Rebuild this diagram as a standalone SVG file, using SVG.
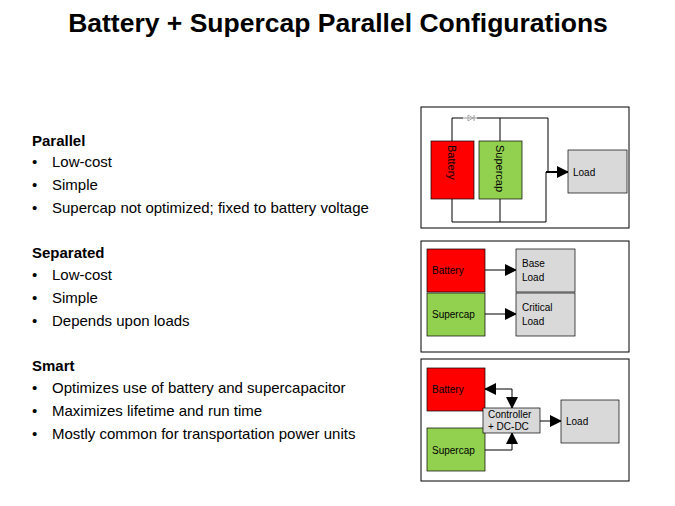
<svg xmlns="http://www.w3.org/2000/svg" width="675" height="506" viewBox="0 0 675 506">
<style>
text{font-family:"Liberation Sans",Arial,sans-serif}
.t{font-size:15px;fill:#000}
.h{font-size:15px;font-weight:bold}
.frame{fill:#fff;stroke:#000;stroke-width:1}
.red{fill:#ff0000;stroke:#000;stroke-width:0.7}
.grn{fill:#92d050;stroke:#000;stroke-width:0.7}
.gry{fill:#d9d9d9;stroke:#000;stroke-width:0.7}
.s{font-size:10px}
.w{fill:none;stroke:#000;stroke-width:1}
.a{fill:none;stroke:#000;stroke-width:1}
</style>
<defs>
<marker id="ar2" markerWidth="12" markerHeight="12" refX="11" refY="6" orient="auto-start-reverse" markerUnits="userSpaceOnUse"><path d="M0,0L12,6L0,12z" fill="#000"/></marker>
</defs>
<text x="338" y="32" text-anchor="middle" style="font-size:26.5px;font-weight:bold">Battery + Supercap Parallel Configurations</text>
<g id="text">
<text x="32" y="146" class="h">Parallel</text>
<text x="32" y="167" class="t">•</text><text x="52" y="167" class="t">Low-cost</text>
<text x="32" y="190" class="t">•</text><text x="52" y="190" class="t">Simple</text>
<text x="32" y="213" class="t">•</text><text x="52" y="213" class="t">Supercap not optimized; fixed to battery voltage</text>
<text x="32" y="258" class="h">Separated</text>
<text x="32" y="280" class="t">•</text><text x="52" y="280" class="t">Low-cost</text>
<text x="32" y="303" class="t">•</text><text x="52" y="303" class="t">Simple</text>
<text x="32" y="326" class="t">•</text><text x="52" y="326" class="t">Depends upon loads</text>
<text x="32" y="371" class="h">Smart</text>
<text x="32" y="393" class="t">•</text><text x="52" y="393" class="t">Optimizes use of battery and supercapacitor</text>
<text x="32" y="416" class="t">•</text><text x="52" y="416" class="t">Maximizes lifetime and run time</text>
<text x="32" y="439" class="t">•</text><text x="52" y="439" class="t">Mostly common for transportation power units</text>
</g>
<rect class="frame" x="421" y="107" width="208" height="121"/>
<rect class="frame" x="421" y="241" width="208" height="111"/>
<rect class="frame" x="421" y="359" width="208" height="122"/>
<g id="connectors">
<path class="w" d="M452,141V118H463M477,118H500V141" stroke="#555"/>
<path d="M463,118H477" stroke="#999" stroke-width="1"/>
<path d="M468,115V121L473,118z" fill="none" stroke="#999" stroke-width="0.8"/>
<path d="M474,115V121" stroke="#999"/>
<path class="w" d="M500,118H548V172" stroke-width="1.5"/>
<path class="w" d="M452,199V222H546V172" stroke="#555" stroke-width="1.3"/>
<path class="w" d="M500,199V222"/>
<path d="M546,172H568" stroke="#000" stroke-width="2" marker-end="url(#ar2)"/>
<path class="a" d="M485,270H516" marker-end="url(#ar2)"/>
<path class="a" d="M485,314H516" marker-end="url(#ar2)"/>
<path class="a" d="M485,389H512V408" marker-start="url(#ar2)" marker-end="url(#ar2)"/>
<path class="a" d="M485,450H512V433" marker-end="url(#ar2)"/>
<path class="a" d="M540,421H561" marker-end="url(#ar2)"/>
</g>
<g id="p-battery"><rect class="red" x="431" y="141" width="43" height="58"/><text class="s" style="font-size:11px" transform="translate(448,145) rotate(90)">Battery</text></g>
<g id="p-supercap"><rect class="grn" x="479" y="141" width="43" height="58"/><text class="s" style="font-size:11px" transform="translate(496,145) rotate(90)">Supercap</text></g>
<g id="p-load"><rect class="gry" x="568" y="150" width="59" height="43"/><text class="s" x="573" y="176">Load</text></g>
<g id="s-battery"><rect class="red" x="427" y="249" width="58" height="43"/><text class="s" x="432" y="274">Battery</text></g>
<g id="s-supercap"><rect class="grn" x="427" y="293" width="58" height="43"/><text class="s" x="432" y="318">Supercap</text></g>
<g id="s-base"><rect class="gry" x="516" y="249" width="59" height="43"/><text class="s" x="522" y="267">Base</text><text class="s" x="522" y="281">Load</text></g>
<g id="s-critical"><rect class="gry" x="516" y="293" width="59" height="43"/><text class="s" x="522" y="311">Critical</text><text class="s" x="522" y="325">Load</text></g>
<g id="m-battery"><rect class="red" x="427" y="368" width="58" height="43"/><text class="s" x="432" y="393">Battery</text></g>
<g id="m-supercap"><rect class="grn" x="427" y="428" width="58" height="43"/><text class="s" x="432" y="454">Supercap</text></g>
<g id="m-ctrl"><rect class="gry" x="483" y="408" width="57" height="25"/><text class="s" x="488" y="418">Controller</text><text class="s" x="488" y="430">+ DC-DC</text></g>
<g id="m-load"><rect class="gry" x="561" y="400" width="58" height="43"/><text class="s" x="566" y="425">Load</text></g>
</svg>
